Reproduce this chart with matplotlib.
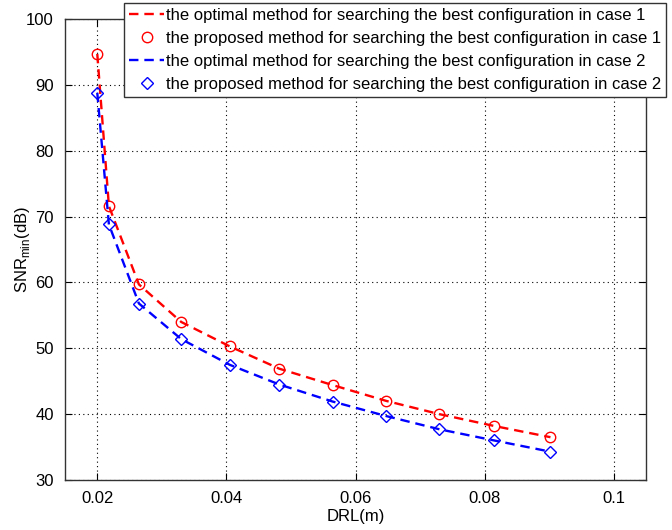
import matplotlib
matplotlib.use("Agg")
import matplotlib.pyplot as plt

plt.rcParams['font.family'] = ['Liberation Sans', 'DejaVu Sans']

drl = [0.0200, 0.0218, 0.02645, 0.0330, 0.0405, 0.0482, 0.0565, 0.0648, 0.0730, 0.0815, 0.0902]
opt_case1 = [94.7, 71.6, 59.7, 54.0, 50.3, 46.9, 44.4, 42.0, 40.0, 38.2, 36.5]
prop_case1 = [94.7, 71.6, 59.7, 54.0, 50.3, 46.9, 44.4, 42.0, 40.0, 38.2, 36.5]
opt_case2 = [88.8, 68.8, 56.8, 51.4, 47.5, 44.5, 41.9, 39.7, 37.7, 36.0, 34.3]
prop_case2 = [88.8, 68.8, 56.8, 51.4, 47.5, 44.5, 41.9, 39.7, 37.7, 36.0, 34.3]

labels = [
    'the optimal method for searching the best configuration in case 1',
    'the proposed method for searching the best configuration in case 1',
    'the optimal method for searching the best configuration in case 2',
    'the proposed method for searching the best configuration in case 2',
]
xticks = [0.02, 0.04, 0.06, 0.08, 0.1]
xticklabels = ['0.02', '0.04', '0.06', '0.08', '0.1']
yticks = [30, 40, 50, 60, 70, 80, 90, 100]

fig = plt.figure(figsize=(6.72, 5.30), dpi=100)
ax = fig.add_axes([65/672, 1-480/530, (646-65)/672, (480-19)/530])

l1, = ax.plot(drl, opt_case1, '--', color='red', lw=1.7, dashes=(4, 2.5))
l2, = ax.plot(drl, prop_case1, 'o', color='red', mfc='none', ms=7.5, mew=1.0)
l3, = ax.plot(drl, opt_case2, '--', color='blue', lw=1.7, dashes=(4, 2.5))
l4, = ax.plot(drl, prop_case2, 'D', color='blue', mfc='none', ms=6.5, mew=1.0)

ax.set_xlim(0.015, 0.105)
ax.set_ylim(30, 100)
ax.set_xticks(xticks)
ax.set_xticklabels(xticklabels)
ax.set_yticks(yticks)
ax.tick_params(direction='in', top=True, right=True, labelsize=12, length=5, width=0.8, pad=8)
ax.grid(True, linestyle=(0, (1, 3)), color='black', lw=0.8)
for s in ax.spines.values():
    s.set_color('#333333')
    s.set_linewidth(1.0)

ax.set_xlabel('DRL(m)', fontsize=12, labelpad=2)
ax.set_ylabel(r'SNR$_{\mathregular{min}}$(dB)', fontsize=12, labelpad=-4)

leg = fig.legend([l1, l2, l3, l4], labels, loc='upper left',
                 bbox_to_anchor=(124/672, 1-3/530), fontsize=12,
                 fancybox=False, framealpha=1, edgecolor='#333333',
                 handlelength=2.1, handletextpad=0.1, borderpad=0.3,
                 labelspacing=0.48, borderaxespad=0)
leg.get_frame().set_linewidth(1.0)

fig.savefig('out.png', dpi=100, facecolor='white')
